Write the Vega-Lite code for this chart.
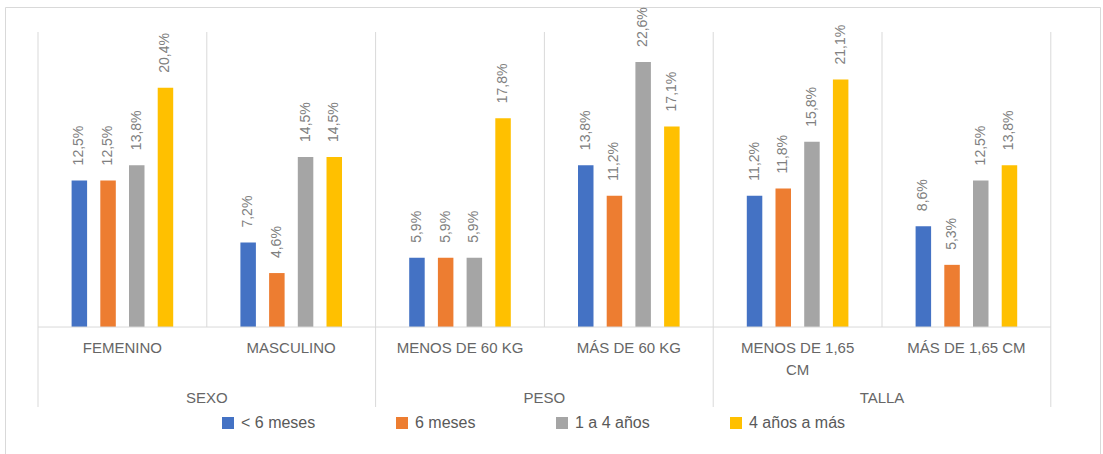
{
  "$schema": "https://vega.github.io/schema/vega-lite/v6.json",
  "width": 1095,
  "height": 448,
  "autosize": {"type": "none"},
  "padding": {"left": 5, "top": 7, "right": 3, "bottom": 0},
  "background": "white",
  "config": {
    "view": {"stroke": "#d9d9d9", "strokeWidth": 1},
    "font": "Liberation Sans",
    "locale": {"number": {"decimal": ",", "thousands": ".", "grouping": [3], "currency": ["", ""]}}
  },
  "datasets": {
    "barras": [
      {"categoria": "FEMENINO", "serie": "< 6 meses", "valor": 0.125},
      {"categoria": "FEMENINO", "serie": "6 meses", "valor": 0.125},
      {"categoria": "FEMENINO", "serie": "1 a 4 años", "valor": 0.138},
      {"categoria": "FEMENINO", "serie": "4 años a más", "valor": 0.204},
      {"categoria": "MASCULINO", "serie": "< 6 meses", "valor": 0.072},
      {"categoria": "MASCULINO", "serie": "6 meses", "valor": 0.046},
      {"categoria": "MASCULINO", "serie": "1 a 4 años", "valor": 0.145},
      {"categoria": "MASCULINO", "serie": "4 años a más", "valor": 0.145},
      {"categoria": "MENOS DE 60 KG", "serie": "< 6 meses", "valor": 0.059},
      {"categoria": "MENOS DE 60 KG", "serie": "6 meses", "valor": 0.059},
      {"categoria": "MENOS DE 60 KG", "serie": "1 a 4 años", "valor": 0.059},
      {"categoria": "MENOS DE 60 KG", "serie": "4 años a más", "valor": 0.178},
      {"categoria": "MÁS DE 60 KG", "serie": "< 6 meses", "valor": 0.138},
      {"categoria": "MÁS DE 60 KG", "serie": "6 meses", "valor": 0.112},
      {"categoria": "MÁS DE 60 KG", "serie": "1 a 4 años", "valor": 0.226},
      {"categoria": "MÁS DE 60 KG", "serie": "4 años a más", "valor": 0.171},
      {"categoria": "MENOS DE 1,65 CM", "serie": "< 6 meses", "valor": 0.112},
      {"categoria": "MENOS DE 1,65 CM", "serie": "6 meses", "valor": 0.118},
      {"categoria": "MENOS DE 1,65 CM", "serie": "1 a 4 años", "valor": 0.158},
      {"categoria": "MENOS DE 1,65 CM", "serie": "4 años a más", "valor": 0.211},
      {"categoria": "MÁS DE 1,65 CM", "serie": "< 6 meses", "valor": 0.086},
      {"categoria": "MÁS DE 1,65 CM", "serie": "6 meses", "valor": 0.053},
      {"categoria": "MÁS DE 1,65 CM", "serie": "1 a 4 años", "valor": 0.125},
      {"categoria": "MÁS DE 1,65 CM", "serie": "4 años a más", "valor": 0.138}
    ],
    "categorias": [
      {"categoria": "FEMENINO", "etiqueta": "FEMENINO"},
      {"categoria": "MASCULINO", "etiqueta": "MASCULINO"},
      {"categoria": "MENOS DE 60 KG", "etiqueta": "MENOS DE 60 KG"},
      {"categoria": "MÁS DE 60 KG", "etiqueta": "MÁS DE 60 KG"},
      {"categoria": "MENOS DE 1,65 CM", "etiqueta": "MENOS DE 1,65\nCM"},
      {"categoria": "MÁS DE 1,65 CM", "etiqueta": "MÁS DE 1,65 CM"}
    ],
    "grupos": [
      {"grupo": "SEXO", "primera": "FEMENINO", "segunda": "MASCULINO"},
      {"grupo": "PESO", "primera": "MENOS DE 60 KG", "segunda": "MÁS DE 60 KG"},
      {"grupo": "TALLA", "primera": "MENOS DE 1,65 CM", "segunda": "MÁS DE 1,65 CM"}
    ]
  },
  "layer": [
    {
      "data": {"name": "barras"},
      "mark": {"type": "bar"},
      "encoding": {
        "x": {
          "field": "categoria", "type": "nominal", "axis": null,
          "scale": {
            "domain": ["FEMENINO", "MASCULINO", "MENOS DE 60 KG", "MÁS DE 60 KG", "MENOS DE 1,65 CM", "MÁS DE 1,65 CM"],
            "paddingInner": 0.058, "paddingOuter": 0.2725, "align": 0.412
          }
        },
        "xOffset": {
          "field": "serie", "type": "nominal",
          "scale": {"domain": ["< 6 meses", "6 meses", "1 a 4 años", "4 años a más"], "paddingInner": 0.46, "paddingOuter": 1}
        },
        "y": {
          "field": "valor", "type": "quantitative", "axis": null,
          "scale": {"domain": [-0.1091, 0.2728], "nice": false, "zero": false}
        },
        "color": {
          "field": "serie", "type": "nominal",
          "scale": {"domain": ["< 6 meses", "6 meses", "1 a 4 años", "4 años a más"], "range": ["#4472C4", "#ED7D31", "#A5A5A5", "#FFC000"]},
          "legend": {
            "orient": "none", "legendX": 215, "legendY": 408, "direction": "horizontal",
            "title": null, "symbolType": "square", "symbolSize": 144, "symbolStrokeWidth": 0,
            "labelFontSize": 16, "labelColor": "#595959", "labelFont": "Liberation Sans",
            "columnPadding": 78, "labelOffset": 5, "padding": 0
          }
        }
      }
    },
    {
      "data": {"name": "barras"},
      "mark": {"type": "text", "angle": 270, "align": "left", "baseline": "middle", "dx": 15, "fontSize": 14, "color": "#808080"},
      "encoding": {
        "x": {"field": "categoria", "type": "nominal", "axis": null},
        "xOffset": {"field": "serie", "type": "nominal"},
        "y": {"field": "valor", "type": "quantitative", "axis": null},
        "text": {"field": "valor", "type": "quantitative", "format": ".1%"}
      }
    },
    {
      "data": {"name": "grupos"},
      "mark": {"type": "rule", "color": "#d9d9d9", "strokeWidth": 1},
      "encoding": {
        "x": {"field": "segunda", "type": "nominal", "bandPosition": -0.0308, "axis": null},
        "y": {"datum": 0},
        "y2": {"datum": 0.2515}
      }
    },
    {
      "data": {"name": "grupos"},
      "mark": {"type": "rule", "color": "#d9d9d9", "strokeWidth": 1},
      "encoding": {
        "x": {"field": "segunda", "type": "nominal", "bandPosition": 1.0308, "axis": null},
        "y": {"datum": -0.0682},
        "y2": {"datum": 0.2515}
      }
    },
    {
      "data": {"name": "grupos"},
      "transform": [{"filter": "datum.grupo === 'SEXO'"}],
      "mark": {"type": "rule", "color": "#d9d9d9", "strokeWidth": 1},
      "encoding": {
        "x": {"field": "primera", "type": "nominal", "bandPosition": -0.0308, "axis": null},
        "y": {"datum": -0.0682},
        "y2": {"datum": 0.2515}
      }
    },
    {
      "data": {"name": "grupos"},
      "mark": {"type": "rule", "color": "#d9d9d9", "strokeWidth": 1},
      "encoding": {
        "x": {"field": "primera", "type": "nominal", "bandPosition": -0.0308, "axis": null},
        "x2": {"field": "segunda", "bandPosition": 1.0308},
        "y": {"datum": 0}
      }
    },
    {
      "data": {"name": "categorias"},
      "mark": {"type": "text", "align": "center", "baseline": "top", "fontSize": 15, "color": "#666666", "lineBreak": "\n", "lineHeight": 22},
      "encoding": {
        "x": {"field": "categoria", "type": "nominal", "axis": null},
        "y": {"datum": -0.0116},
        "text": {"field": "etiqueta"}
      }
    },
    {
      "data": {"name": "grupos"},
      "mark": {"type": "text", "align": "center", "baseline": "top", "fontSize": 15, "color": "#666666"},
      "encoding": {
        "x": {"field": "segunda", "type": "nominal", "bandPosition": -0.0308, "axis": null},
        "y": {"datum": -0.0542},
        "text": {"field": "grupo"}
      }
    }
  ]
}
